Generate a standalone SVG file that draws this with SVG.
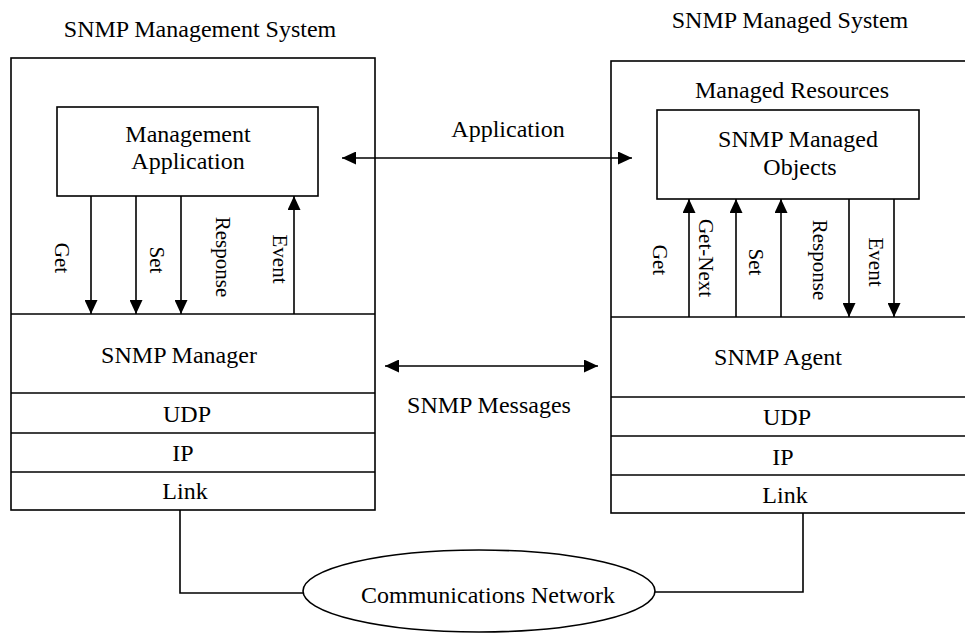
<svg xmlns="http://www.w3.org/2000/svg" width="965" height="634" viewBox="0 0 965 634">
<style>
text{font-family:"Liberation Serif","Times New Roman",serif;fill:#000;}
.t{font-size:24px;text-anchor:middle;}
.v{font-size:21px;text-anchor:middle;}
.box{fill:none;stroke:#000;stroke-width:1.6;}
.ln{fill:none;stroke:#000;stroke-width:1.6;}
</style>
<defs>
<marker id="ah" viewBox="0 0 14 13" refX="14" refY="6.5" markerWidth="14" markerHeight="13" markerUnits="userSpaceOnUse" orient="auto-start-reverse">
<path d="M0,0 L14,6.5 L0,13 Z" fill="#000"/>
</marker>
</defs>
<rect width="965" height="634" fill="#fff"/>

<g id="mgmt-system">
<text class="t" x="200" y="37">SNMP Management System</text>
<rect class="box" x="11" y="58" width="364" height="452"/>
<line class="ln" x1="11" y1="314" x2="375" y2="314"/>
<line class="ln" x1="11" y1="393" x2="375" y2="393"/>
<line class="ln" x1="11" y1="433" x2="375" y2="433"/>
<line class="ln" x1="11" y1="472" x2="375" y2="472"/>
</g>
<g id="mgmt-app">
<rect class="box" x="57" y="107" width="261" height="89"/>
<text class="t" x="188" y="142">Management</text>
<text class="t" x="188" y="169">Application</text>
</g>
<g id="snmp-manager"><text class="t" x="179" y="363">SNMP Manager</text></g>
<g id="m-udp"><text class="t" x="187" y="422">UDP</text></g>
<g id="m-ip"><text class="t" x="183" y="461">IP</text></g>
<g id="m-link"><text class="t" x="185" y="499">Link</text></g>

<g id="managed-system">
<text class="t" x="790" y="28">SNMP Managed System</text>
<rect class="box" x="611" y="61" width="370" height="452"/>
<line class="ln" x1="611" y1="317" x2="970" y2="317"/>
<line class="ln" x1="611" y1="397" x2="970" y2="397"/>
<line class="ln" x1="611" y1="436" x2="970" y2="436"/>
<line class="ln" x1="611" y1="475" x2="970" y2="475"/>
<text class="t" x="792" y="98">Managed Resources</text>
</g>
<g id="managed-objects">
<rect class="box" x="657" y="110" width="262" height="89"/>
<text class="t" x="798" y="147">SNMP Managed</text>
<text class="t" x="800" y="175">Objects</text>
</g>
<g id="snmp-agent"><text class="t" x="778" y="365">SNMP Agent</text></g>
<g id="a-udp"><text class="t" x="787" y="425">UDP</text></g>
<g id="a-ip"><text class="t" x="783" y="465">IP</text></g>
<g id="a-link"><text class="t" x="785" y="503">Link</text></g>

<g id="network">
<ellipse class="box" cx="479" cy="591" rx="176" ry="41"/>
<text class="t" x="488" y="603">Communications Network</text>
</g>

<g id="connectors">
<line class="ln" x1="91" y1="196" x2="91" y2="314" marker-end="url(#ah)"/>
<line class="ln" x1="136" y1="196" x2="136" y2="314" marker-end="url(#ah)"/>
<line class="ln" x1="181" y1="196" x2="181" y2="314" marker-end="url(#ah)"/>
<line class="ln" x1="294" y1="314" x2="294" y2="196" marker-end="url(#ah)"/>
<line class="ln" x1="689" y1="317" x2="689" y2="199" marker-end="url(#ah)"/>
<line class="ln" x1="736" y1="317" x2="736" y2="199" marker-end="url(#ah)"/>
<line class="ln" x1="781" y1="317" x2="781" y2="199" marker-end="url(#ah)"/>
<line class="ln" x1="849" y1="199" x2="849" y2="317" marker-end="url(#ah)"/>
<line class="ln" x1="894" y1="199" x2="894" y2="317" marker-end="url(#ah)"/>
<line class="ln" x1="342" y1="158" x2="632" y2="158" marker-start="url(#ah)" marker-end="url(#ah)"/>
<line class="ln" x1="385" y1="366" x2="598" y2="366" marker-start="url(#ah)" marker-end="url(#ah)"/>
<polyline class="ln" points="180,510 180,593 303,593"/>
<polyline class="ln" points="803,513 803,592 655,592"/>
</g>

<g id="labels">
<text class="t" x="508" y="137">Application</text>
<text class="t" x="489" y="413">SNMP Messages</text>
<text class="v" transform="translate(55,258) rotate(90)">Get</text>
<text class="v" transform="translate(150,260) rotate(90)">Set</text>
<text class="v" transform="translate(216,257) rotate(90)">Response</text>
<text class="v" transform="translate(273,259) rotate(90)">Event</text>
<text class="v" transform="translate(653,260) rotate(90)">Get</text>
<text class="v" transform="translate(699,258) rotate(90)">Get-Next</text>
<text class="v" transform="translate(749,262) rotate(90)">Set</text>
<text class="v" transform="translate(813,260) rotate(90)">Response</text>
<text class="v" transform="translate(869,262) rotate(90)">Event</text>
</g>
</svg>
